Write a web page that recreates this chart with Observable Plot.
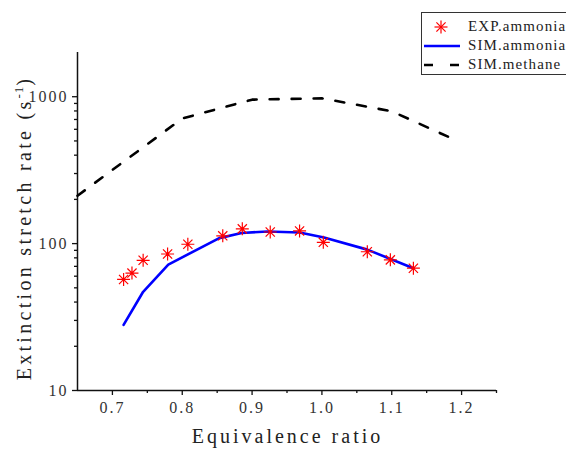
<!DOCTYPE html>
<html><head><meta charset="utf-8">
<script src="https://cdn.jsdelivr.net/npm/d3@7"></script>
<script src="https://cdn.jsdelivr.net/npm/@observablehq/plot@0.6"></script>
<style>
body{margin:0;background:#fff;overflow:hidden;}
#wrap{position:relative;width:566px;height:449px;overflow:hidden;}
#legend{position:absolute;left:421px;top:12px;width:170px;height:61px;border:1px solid #333;background:#fff;font-family:"Liberation Serif",serif;font-size:15px;letter-spacing:1.1px;color:#222;}
.row{position:absolute;left:0;height:19px;display:flex;align-items:center;white-space:nowrap;}
.row svg{width:44px;height:19px;flex:none;}
.row span{margin-left:2px;}
svg text{letter-spacing:2px;}
</style></head>
<body><div id="wrap"></div>
<script>
// EXP. ammonia (measured)
const expPhi  = [0.716, 0.728, 0.744, 0.779, 0.808, 0.858, 0.886, 0.926, 0.968, 1.002, 1.065, 1.098, 1.131];
const expRate = [57, 63, 77, 85, 99, 113, 126, 120, 122, 102, 88, 77.5, 68];
// SIM. ammonia
const simNH3Phi  = [0.716, 0.744, 0.780, 0.853, 0.885, 0.922, 0.968, 1.003, 1.065, 1.131];
const simNH3Rate = [28, 47, 72, 109, 118, 121, 119, 110, 91, 68];
// SIM. methane
const simCH4Phi  = [0.65, 0.80, 0.90, 1.00, 1.10, 1.183];
const simCH4Rate = [212, 711, 955, 975, 796, 528];

const xDomain = [0.65, 1.25];
const yDomain = [10, 2000];
const xMajor = [0.7, 0.8, 0.9, 1.0, 1.1, 1.2];
const xMinor = [0.75, 0.85, 0.95, 1.05, 1.15, 1.25];
const yMajor = [10, 100, 1000];
const yMinor = [20, 30, 40, 50, 60, 70, 80, 90, 200, 300, 400, 500, 600, 700, 800, 900];

const seriesNames = ["EXP.ammonia", "SIM.ammonia", "SIM.methane"];
const xLabel = "Equivalence ratio";
const yLabel = ["Extinction stretch rate (s", "-1", ")"];

const expData = expPhi.map((x, i) => ({x, y: expRate[i]}));
const nh3Data = simNH3Phi.map((x, i) => ({x, y: simNH3Rate[i]}));
const ch4Data = simCH4Phi.map((x, i) => ({x, y: simCH4Rate[i]}));

const asterisk = {
  draw(ctx, size) {
    const r = Math.sqrt(size / Math.PI);
    const d = r * Math.SQRT1_2;
    ctx.moveTo(0, -r); ctx.lineTo(0, r);
    ctx.moveTo(-r, 0); ctx.lineTo(r, 0);
    ctx.moveTo(-d, -d); ctx.lineTo(d, d);
    ctx.moveTo(-d, d); ctx.lineTo(d, -d);
  }
};

const plot = Plot.plot({
  width: 566, height: 449,
  marginLeft: 77, marginRight: 70, marginTop: 52, marginBottom: 59,
  style: {fontFamily: "'Liberation Serif', serif", fontSize: "16px", color: "#333", background: "white", overflow: "visible"},
  x: {domain: xDomain},
  y: {type: "log", domain: yDomain},
  marks: [
    Plot.axisX({ticks: xMajor, tickSize: 5, tickPadding: 6, tickFormat: d3.format(".1f"), label: null, stroke: "#111", strokeWidth: 1.3}),
    Plot.axisX({ticks: xMinor, tickSize: 3, tickFormat: () => "", label: null, stroke: "#111", strokeWidth: 1.3}),
    Plot.axisY({ticks: yMajor, tickSize: 5, tickPadding: 4, tickFormat: d => String(d), label: null, stroke: "#111", strokeWidth: 1.3}),
    Plot.axisY({ticks: yMinor, tickSize: 3, tickFormat: () => "", label: null, stroke: "#111", strokeWidth: 1.3}),
    Plot.ruleX([xDomain[0]], {stroke: "#111", strokeWidth: 1.5}),
    Plot.ruleY([yDomain[0]], {stroke: "#111", strokeWidth: 1.5}),
    Plot.line(ch4Data, {x: "x", y: "y", stroke: "black", strokeWidth: 2.6, strokeDasharray: "9,13"}),
    Plot.line(nh3Data, {x: "x", y: "y", stroke: "#0000ff", strokeWidth: 2.6}),
    Plot.dot(expData, {x: "x", y: "y", symbol: asterisk, r: 6.5, stroke: "#ff0000", strokeWidth: 1.2, fill: "none"})
  ]
});

const svg = d3.select(plot);
svg.append("text")
  .attr("x", (77 + 496) / 2 + 1).attr("y", 443)
  .attr("text-anchor", "middle")
  .attr("font-size", 20).attr("fill", "#222")
  .style("letter-spacing", "3px")
  .text(xLabel);
const yl = svg.append("text")
  .attr("transform", "translate(31,228) rotate(-90)")
  .attr("text-anchor", "middle")
  .attr("font-size", 20).attr("fill", "#222")
  .style("letter-spacing", "3.3px");
yl.append("tspan").text(yLabel[0]);
yl.append("tspan").attr("dy", -8).attr("font-size", 13).style("letter-spacing", "1px").text(yLabel[1]);
yl.append("tspan").attr("dy", 8).text(yLabel[2]);

const wrap = document.getElementById("wrap");
wrap.appendChild(plot);

// legend
const legend = document.createElement("div");
legend.id = "legend";
const swatches = [
  `<svg><g stroke="#ff0000" stroke-width="1.2"><line x1="19" y1="3.5" x2="19" y2="16.5"/><line x1="12.5" y1="10" x2="25.5" y2="10"/><line x1="14.4" y1="5.4" x2="23.6" y2="14.6"/><line x1="14.4" y1="14.6" x2="23.6" y2="5.4"/></g></svg>`,
  `<svg><line x1="2" y1="10" x2="38" y2="10" stroke="#0000ff" stroke-width="2.6"/></svg>`,
  `<svg><line x1="2" y1="10" x2="38" y2="10" stroke="black" stroke-width="2.6" stroke-dasharray="9,17"/></svg>`
];
const rowTops = [4, 23, 42];
seriesNames.forEach((name, i) => {
  const row = document.createElement("div");
  row.className = "row";
  row.style.top = rowTops[i] + "px";
  row.innerHTML = swatches[i] + `<span>${name}</span>`;
  legend.appendChild(row);
});
wrap.appendChild(legend);
</script>
</body></html>
